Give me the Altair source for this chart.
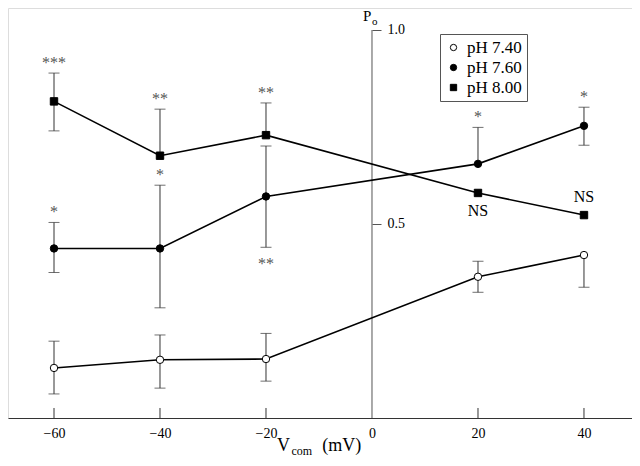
import altair as alt
import pandas as pd

# ---- data ----
x_vals = [-60, -40, -20, 20, 40]
series = ["pH 7.40", "pH 7.60", "pH 8.00"]

po_740 = [0.129, 0.150, 0.152, 0.364, 0.420]
lo_740 = [0.062, 0.077, 0.095, 0.324, 0.337]
hi_740 = [0.198, 0.214, 0.218, 0.404, None]

po_760 = [0.437, 0.437, 0.571, 0.655, 0.753]
lo_760 = [0.375, 0.284, 0.440, None, 0.703]
hi_760 = [0.504, 0.600, 0.701, 0.749, 0.801]

po_800 = [0.816, 0.676, 0.729, 0.580, 0.523]
lo_800 = [0.740, None, None, None, None]
hi_800 = [0.889, 0.796, 0.812, None, None]

# annotations: series, x, text, kind
ann_series = ["pH 8.00", "pH 8.00", "pH 8.00", "pH 8.00", "pH 8.00",
              "pH 7.60", "pH 7.60", "pH 7.60", "pH 7.60", "pH 7.60"]
ann_x = [-60, -40, -20, 20, 40, -60, -40, -20, 20, 40]
ann_text = ["***", "**", "**", "NS", "NS", "*", "*", "**", "*", "*"]
ann_kind = ["above", "above", "above", "ns_below", "ns_above",
            "above", "above", "below", "above", "above"]

x_tick_vals = [-60, -40, -20, 20, 40]
x_label_vals = [-60, -40, -20, 0, 20, 40]
y_label_vals = [0.5, 1.0]

# ---- build tables ----
pos, los, his = {}, {}, {}
for s, p, l, h in zip(series, [po_740, po_760, po_800], [lo_740, lo_760, lo_800], [hi_740, hi_760, hi_800]):
    pos[s], los[s], his[s] = p, l, h

rows = []
for s in series:
    for i, x in enumerate(x_vals):
        p, l, h = pos[s][i], los[s][i], his[s][i]
        rows.append({"series": s, "x": x, "po": p,
                     "ylo": l if l is not None else p,
                     "yhi": h if h is not None else p,
                     "has_bar": (l is not None) or (h is not None)})
df = pd.DataFrame(rows)
bars = df[df["has_bar"]]

caps = []
for s in series:
    for i, x in enumerate(x_vals):
        for v in (los[s][i], his[s][i]):
            if v is not None:
                caps.append({"series": s, "x": x, "cap": v})
caps = pd.DataFrame(caps)

ann = []
for s, x, t, k in zip(ann_series, ann_x, ann_text, ann_kind):
    i = x_vals.index(x)
    if k == "above":
        anchor = his[s][i]
    elif k == "below":
        anchor = los[s][i]
    else:
        anchor = pos[s][i]
    ann.append({"series": s, "x": x, "text": t, "kind": k, "anchor": anchor})
ann = pd.DataFrame(ann)

ticks_df = pd.DataFrame({"x": x_tick_vals, "y0": [0.0] * len(x_tick_vals), "y1": [0.0258] * len(x_tick_vals)})
yaxis_df = pd.DataFrame({"x": [0], "y0": [0.0], "y1": [1.0]})

# ---- scales / axes ----
W, H = 624, 410
FONT = "Liberation Serif"
xs = alt.Scale(domain=[-68.68, 49.06], nice=False, zero=False)
ys = alt.Scale(domain=[0, 1.0567], nice=False, zero=False)

x_axis = alt.Axis(values=x_label_vals, ticks=False, grid=False, domainColor="#333333",
                  domainWidth=1, labelFont=FONT, labelFontSize=14, labelColor="black",
                  labelPadding=8, title=None, format="d")
y_axis = alt.Axis(orient="right", offset=-260, values=y_label_vals, format=".1f",
                  tickSize=9, tickColor="#555555", tickWidth=1, domain=False, grid=False,
                  labelFont=FONT, labelFontSize=14, labelColor="black", labelPadding=6,
                  title=None)

X = alt.X("x:Q", scale=xs, axis=x_axis)

base_ticks = alt.Chart(ticks_df).mark_rule(color="#333333", strokeWidth=1).encode(
    x=X, y=alt.Y("y0:Q", scale=ys, axis=y_axis), y2="y1:Q")

yline = alt.Chart(yaxis_df).mark_rule(color="#555555", strokeWidth=1).encode(
    x=X, y=alt.Y("y0:Q", scale=ys, axis=y_axis), y2="y1:Q")

err = alt.Chart(bars).mark_rule(color="#333333", strokeWidth=1).encode(
    x=X, y=alt.Y("ylo:Q", scale=ys, axis=y_axis), y2="yhi:Q")

capm = alt.Chart(caps).mark_tick(orient="horizontal", size=11, thickness=1, color="#333333").encode(
    x=X, y=alt.Y("cap:Q", scale=ys, axis=y_axis))

lines = alt.Chart(df).mark_line(color="black", strokeWidth=1.6).encode(
    x=X, y=alt.Y("po:Q", scale=ys, axis=y_axis), detail="series:N")

leg = alt.Legend(title=None, orient="none", legendX=432, legendY=26, padding=5,
                 strokeColor="#555555", fillColor="white", labelFont=FONT,
                 labelFontSize=17, labelColor="black", symbolSize=40,
                 symbolStrokeWidth=1, rowPadding=2, labelOffset=5)

points = alt.Chart(df).mark_point(filled=True, size=55, strokeWidth=1, opacity=1).encode(
    x=X, y=alt.Y("po:Q", scale=ys, axis=y_axis),
    shape=alt.Shape("series:N", scale=alt.Scale(domain=series, range=["circle", "circle", "square"]), legend=leg),
    fill=alt.Fill("series:N", scale=alt.Scale(domain=series, range=["white", "black", "black"]), legend=leg),
    stroke=alt.Stroke("series:N", scale=alt.Scale(domain=series, range=["black", "black", "black"]), legend=leg),
)

dys = {"above": -5, "below": 22, "ns_below": 23, "ns_above": -13}
ann_layers = []
for k, dy in dys.items():
    sub = ann[ann["kind"] == k]
    isns = k.startswith("ns")
    ann_layers.append(
        alt.Chart(sub).mark_text(font=FONT, fontSize=16, dy=dy, align="center", baseline="alphabetic",
                                 color="black" if isns else "#555555").encode(
            x=X, y=alt.Y("anchor:Q", scale=ys, axis=y_axis), text="text:N"))

# titles
title_df = pd.DataFrame({"x": [-17.9, -15.2, -9.4, -1.7, 0.0],
                         "t": ["V", "com", "(mV)", "P", "o"],
                         "grp": ["big", "small", "big", "ybig", "ysmall"]})
tV = alt.Chart(title_df[title_df.grp == "big"]).mark_text(font=FONT, fontSize=18, align="left", baseline="alphabetic", color="black").encode(
    x=X, y=alt.value(443), text="t:N")
tc = alt.Chart(title_df[title_df.grp == "small"]).mark_text(font=FONT, fontSize=12, align="left", baseline="alphabetic", color="black").encode(
    x=X, y=alt.value(447), text="t:N")
tP = alt.Chart(title_df[title_df.grp == "ybig"]).mark_text(font=FONT, fontSize=15, align="left", baseline="alphabetic", color="black").encode(
    x=X, y=alt.value(13), text="t:N")
to = alt.Chart(title_df[title_df.grp == "ysmall"]).mark_text(font=FONT, fontSize=11, align="left", baseline="alphabetic", color="black").encode(
    x=X, y=alt.value(17), text="t:N")

chart = alt.layer(base_ticks, yline, err, capm, lines, points, *ann_layers, tV, tc, tP, to).properties(
    width=W, height=H,
    autosize=alt.AutoSizeParams(type="none"),
    padding={"left": 0, "right": 0, "top": 0, "bottom": 39},
).configure_view(stroke=None).configure(background="white")

chart.save("out.html", embed_options={"renderer": "svg", "actions": False})
